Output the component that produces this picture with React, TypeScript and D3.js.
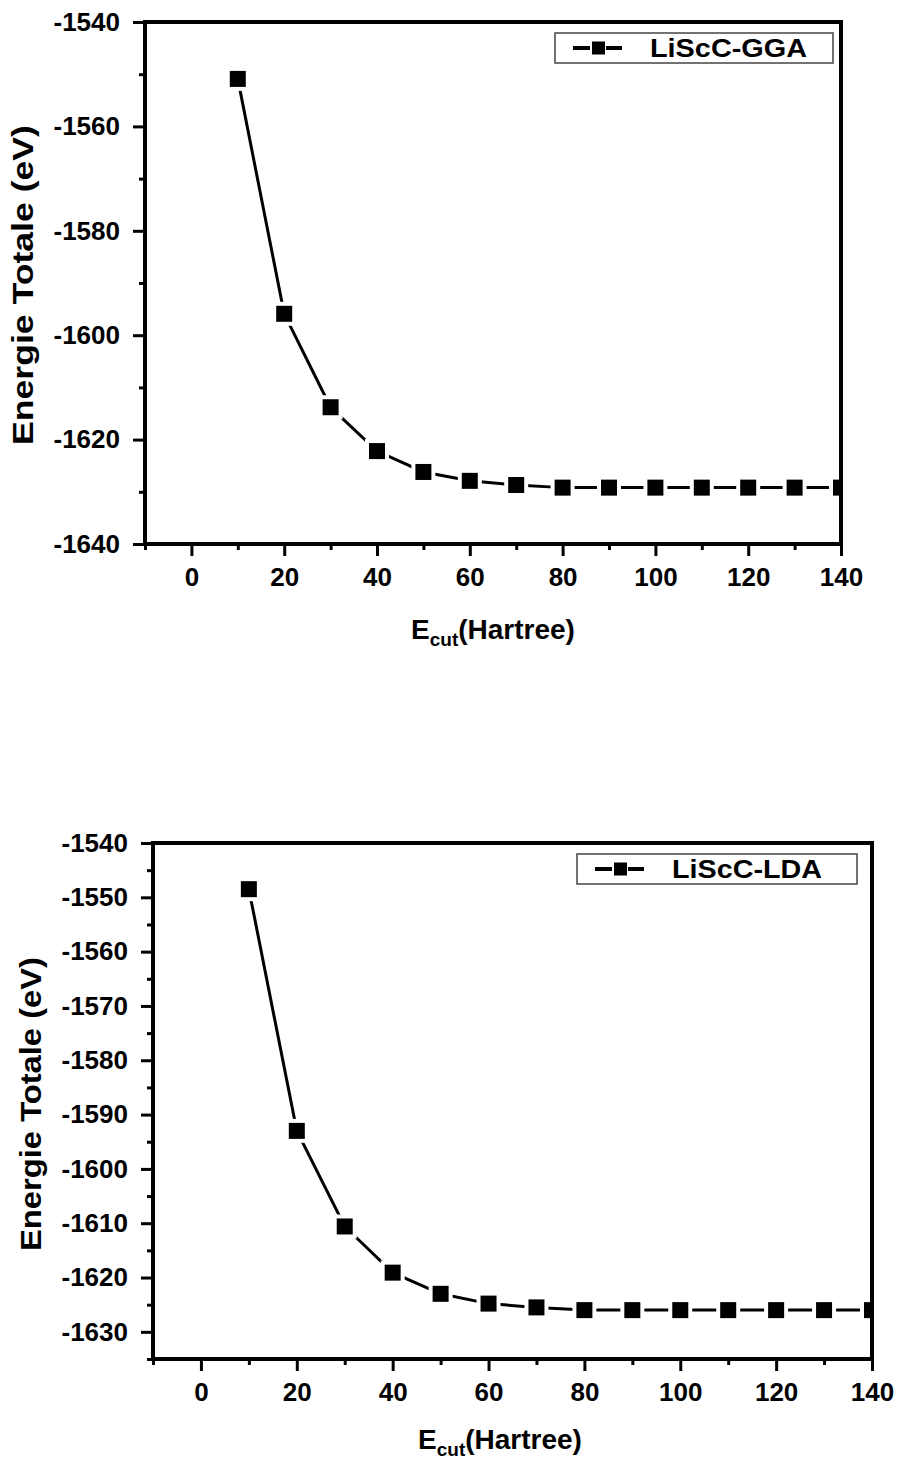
import React, { useEffect, useRef } from "react";
import * as d3 from "d3";

// E_cut values (Hartree)
const ecut = [10, 20, 30, 40, 50, 60, 70, 80, 90, 100, 110, 120, 130, 140];
// total energies (eV)
const ggaEnergy = [-1550.9, -1595.9, -1613.8, -1622.2, -1626.2, -1627.9, -1628.7, -1629.2, -1629.2, -1629.2, -1629.2, -1629.2, -1629.2, -1629.2];
const ldaEnergy = [-1548.5, -1593.0, -1610.6, -1619.1, -1623.0, -1624.8, -1625.5, -1626.0, -1626.0, -1626.0, -1626.0, -1626.0, -1626.0, -1626.0];

const xTicks = [0, 20, 40, 60, 80, 100, 120, 140];
const xMinorTicks = [-10, 10, 30, 50, 70, 90, 110, 130];
const ggaYTicks = [-1640, -1620, -1600, -1580, -1560, -1540];
const ggaYMinorTicks = [-1630, -1610, -1590, -1570, -1550];
const ldaYTicks = [-1630, -1620, -1610, -1600, -1590, -1580, -1570, -1560, -1550, -1540];
const ldaYMinorTicks = [-1635, -1625, -1615, -1605, -1595, -1585, -1575, -1565, -1555, -1545];

const FONT = "Arial, 'Liberation Sans', sans-serif";

function drawPanel(svg, cfg) {
  const x = d3.scaleLinear().domain([-10, 140]).range([cfg.left, cfg.right]);
  const y = d3.scaleLinear().domain(cfg.yDomain).range([cfg.bottom, cfg.top]);
  const g = svg.append("g");

  const clipId = "clip-" + cfg.name;
  g.append("clipPath").attr("id", clipId)
    .append("rect")
    .attr("x", cfg.left).attr("y", cfg.top)
    .attr("width", cfg.right - cfg.left).attr("height", cfg.bottom - cfg.top);

  // ticks
  const styleAxis = (s) => {
    s.attr("font-size", null).attr("font-family", null);
    s.select(".domain").remove();
    s.selectAll("line").attr("stroke", "#000").attr("stroke-width", 3);
    s.selectAll("text")
      .attr("fill", "#000")
      .style("font-family", FONT)
      .style("font-weight", "bold")
      .style("font-size", "26px");
  };

  g.append("g")
    .attr("transform", "translate(" + cfg.left + ",0)")
    .call(d3.axisLeft(y).tickValues(cfg.yMinor).tickSize(6).tickFormat(() => ""))
    .call(styleAxis);
  g.append("g")
    .attr("transform", "translate(" + cfg.left + ",0)")
    .call(d3.axisLeft(y).tickValues(cfg.yTicks).tickSize(12).tickPadding(13).tickFormat((d) => String(d)))
    .call(styleAxis);

  g.append("g")
    .attr("transform", "translate(0," + cfg.bottom + ")")
    .call(d3.axisBottom(x).tickValues(xMinorTicks).tickSize(6).tickFormat(() => ""))
    .call(styleAxis);
  g.append("g")
    .attr("transform", "translate(0," + cfg.bottom + ")")
    .call(d3.axisBottom(x).tickValues(xTicks).tickSize(12).tickPadding(12).tickFormat((d) => String(d)))
    .call(styleAxis);

  // data
  const pts = ecut.map((e, i) => [e, cfg.values[i]]);
  const plot = g.append("g").attr("clip-path", "url(#" + clipId + ")");
  plot.append("path")
    .datum(pts)
    .attr("fill", "none")
    .attr("stroke", "#000")
    .attr("stroke-width", 3)
    .attr("d", d3.line().x((d) => x(d[0])).y((d) => y(d[1])));
  plot.selectAll(".halo").data(pts).enter().append("rect")
    .attr("x", (d) => x(d[0]) - 12).attr("y", (d) => y(d[1]) - 12)
    .attr("width", 24).attr("height", 24).attr("fill", "#fff");
  plot.selectAll(".mk").data(pts).enter().append("rect")
    .attr("x", (d) => x(d[0]) - 8).attr("y", (d) => y(d[1]) - 8)
    .attr("width", 16).attr("height", 16).attr("fill", "#000");

  // frame
  g.append("rect")
    .attr("x", cfg.left).attr("y", cfg.top)
    .attr("width", cfg.right - cfg.left).attr("height", cfg.bottom - cfg.top)
    .attr("fill", "none").attr("stroke", "#000").attr("stroke-width", 4);

  // legend
  const lg = cfg.legend;
  g.append("rect")
    .attr("x", lg.x).attr("y", lg.y).attr("width", lg.w).attr("height", lg.h)
    .attr("fill", "#fff").attr("stroke", "#444").attr("stroke-width", 1.5);
  const ly = lg.y + lg.h / 2;
  g.append("line").attr("x1", lg.x + 18).attr("x2", lg.x + 35).attr("y1", ly).attr("y2", ly)
    .attr("stroke", "#000").attr("stroke-width", 4);
  g.append("line").attr("x1", lg.x + 51).attr("x2", lg.x + 67).attr("y1", ly).attr("y2", ly)
    .attr("stroke", "#000").attr("stroke-width", 4);
  g.append("rect").attr("x", lg.x + 37).attr("y", ly - 6.5).attr("width", 13).attr("height", 13).attr("fill", "#000");
  g.append("text")
    .attr("x", lg.x + 95).attr("y", ly + 9)
    .attr("textLength", lg.tw).attr("lengthAdjust", "spacingAndGlyphs")
    .style("font-family", FONT).style("font-weight", "bold").style("font-size", "25px")
    .text(cfg.label);

  // axis titles
  const xt = g.append("text")
    .attr("x", cfg.xTitle[0]).attr("y", cfg.xTitle[1])
    .attr("text-anchor", "middle")
    .style("font-family", FONT).style("font-weight", "bold").style("font-size", "28px");
  xt.append("tspan").text("E");
  xt.append("tspan").attr("dy", 7).style("font-size", "19px").text("cut");
  xt.append("tspan").attr("dy", -7).text("(Hartree)");

  g.append("text")
    .attr("transform", "translate(" + cfg.yTitle[0] + "," + cfg.yTitle[1] + ") rotate(-90)")
    .attr("text-anchor", "middle")
    .attr("dy", "0.35em")
    .attr("textLength", cfg.yTitle[2]).attr("lengthAdjust", "spacingAndGlyphs")
    .style("font-family", FONT).style("font-weight", "bold").style("font-size", "30px")
    .text("Energie Totale (eV)");
}

export default function App() {
  const ref = useRef(null);

  useEffect(() => {
    const svg = d3.select(ref.current);
    svg.selectAll("*").remove();
    drawPanel(svg, {
      name: "gga",
      left: 145, right: 841, top: 22, bottom: 544,
      yDomain: [-1640, -1540],
      yTicks: ggaYTicks, yMinor: ggaYMinorTicks,
      values: ggaEnergy,
      label: "LiScC-GGA",
      legend: { x: 555, y: 33, w: 278, h: 30, tw: 157 },
      xTitle: [493, 639],
      yTitle: [22, 285, 320],
    });
    drawPanel(svg, {
      name: "lda",
      left: 153, right: 872, top: 843, bottom: 1359,
      yDomain: [-1635, -1540],
      yTicks: ldaYTicks, yMinor: ldaYMinorTicks,
      values: ldaEnergy,
      label: "LiScC-LDA",
      legend: { x: 577, y: 854, w: 280, h: 30, tw: 150 },
      xTitle: [500, 1449],
      yTitle: [30, 1104, 294],
    });
    return () => { svg.selectAll("*").remove(); };
  }, []);

  return (
    <svg ref={ref} width={901} height={1465} viewBox="0 0 901 1465"
      style={{ position: "absolute", left: 0, top: 0, background: "#fff" }} />
  );
}
